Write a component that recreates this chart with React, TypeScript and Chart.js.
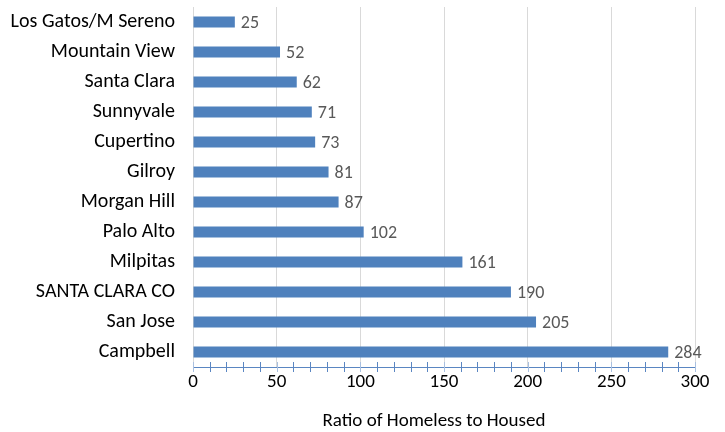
import React, { useEffect, useRef } from "react";
import { Chart, registerables } from "chart.js";

Chart.register(...registerables);

const categories = [
  "Los Gatos/M Sereno",
  "Mountain View",
  "Santa Clara",
  "Sunnyvale",
  "Cupertino",
  "Gilroy",
  "Morgan Hill",
  "Palo Alto",
  "Milpitas",
  "SANTA CLARA CO",
  "San Jose",
  "Campbell",
];
const ratios = [25, 52, 62, 71, 73, 81, 87, 102, 161, 190, 205, 284];
const axisTitle = "Ratio of Homeless to Housed";
const FONT = "Carlito, Lato, 'Open Sans', sans-serif";

const decorations = {
  id: "decorations",
  afterDatasetsDraw(chart: any) {
    const ctx = chart.ctx;
    const xs = chart.scales.x;
    const area = chart.chartArea;
    ctx.save();
    // axis line
    ctx.strokeStyle = "#5a86c2";
    ctx.lineWidth = 1;
    ctx.beginPath();
    ctx.moveTo(area.left, area.bottom + 0.5);
    ctx.lineTo(area.right, area.bottom + 0.5);
    ctx.stroke();
    for (let v = 0; v <= 300; v += 10) {
      const px = Math.round(xs.getPixelForValue(v)) + 0.5;
      ctx.strokeStyle = v % 50 === 0 ? "#a9c0e0" : "#5a86c2";
      ctx.beginPath();
      ctx.moveTo(px, area.bottom - 5);
      ctx.lineTo(px, area.bottom + 5);
      ctx.stroke();
    }
    // data labels
    ctx.fillStyle = "#595959";
    ctx.font = `18px ${FONT}`;
    ctx.textBaseline = "middle";
    ctx.textAlign = "left";
    const meta = chart.getDatasetMeta(0);
    meta.data.forEach((bar: any, i: number) => {
      ctx.fillText(String(ratios[i]), bar.x + 6, bar.y + 1);
    });
    // axis title
    ctx.fillStyle = "#000";
    ctx.font = `19px ${FONT}`;
    ctx.textAlign = "center";
    ctx.fillText(axisTitle, (area.left + area.right) / 2 - 10, chart.height - 11);
    ctx.restore();
  },
};

export default function App() {
  const ref = useRef<HTMLCanvasElement>(null);
  useEffect(() => {
    document.body.style.margin = "0";
    const chart = new Chart(ref.current!, {
      type: "bar",
      data: {
        labels: categories,
        datasets: [
          {
            data: ratios,
            backgroundColor: "#4f81bd",
            barPercentage: 0.37,
            categoryPercentage: 1,
          },
        ],
      },
      options: {
        indexAxis: "y",
        animation: false,
        responsive: false,
        layout: { padding: { top: 7, right: 30, left: 0, bottom: 0 } },
        plugins: { legend: { display: false }, tooltip: { enabled: false } },
        scales: {
          x: {
            min: 0,
            max: 300,
            ticks: {
              stepSize: 50,
              color: "#000",
              font: { family: FONT, size: 19 },
              padding: 4,
            },
            grid: { color: "#d9d9d9", drawTicks: false },
            border: { display: false },
            afterFit(scale: any) {
              scale.height = 65;
            },
          },
          y: {
            ticks: {
              color: "#000",
              font: { family: FONT, size: 20 },
              padding: 18,
            },
            grid: { display: false, drawTicks: false },
            border: { display: true, color: "#d9d9d9" },
            afterFit(scale: any) {
              scale.width = 193;
              scale.paddingTop = 0;
              scale.paddingBottom = 0;
            },
          },
        },
      },
      plugins: [decorations],
    });
    return () => chart.destroy();
  }, []);
  return (
    <div style={{ width: 725, height: 432 }}>
      <canvas ref={ref} width={725} height={432} />
    </div>
  );
}
